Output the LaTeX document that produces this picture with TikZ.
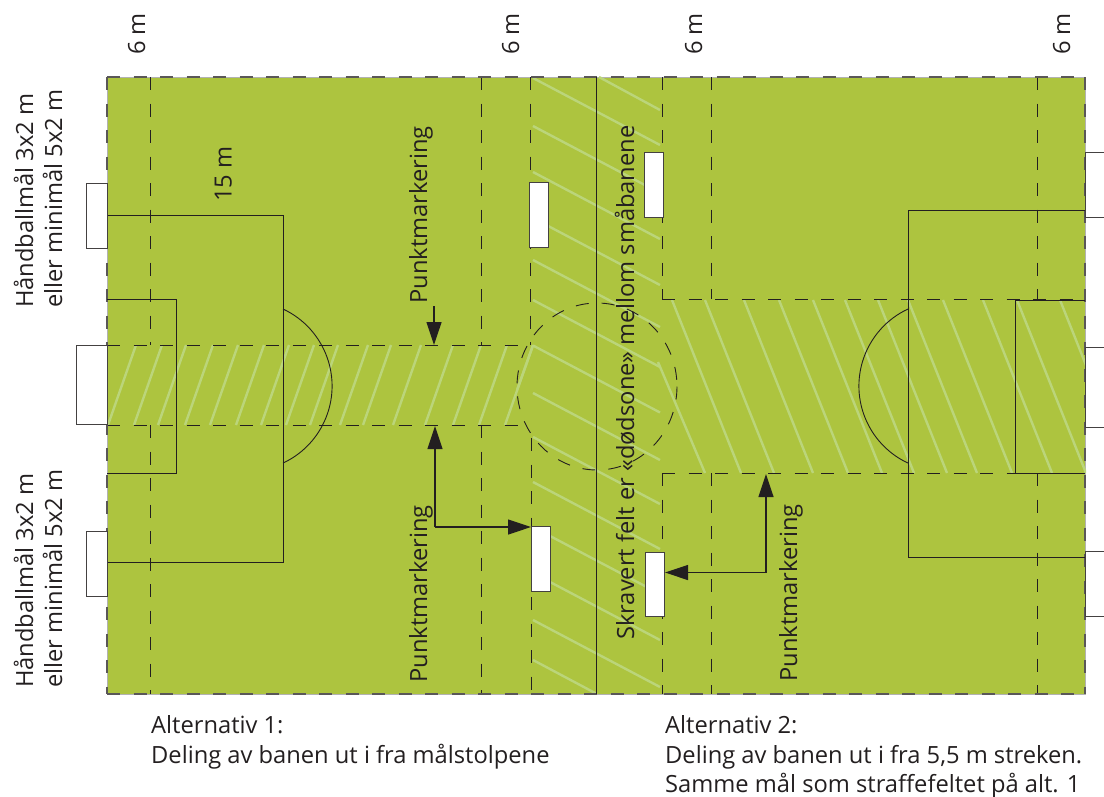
\documentclass[tikz,border=0pt]{standalone}
\usepackage{fontspec}
\setmainfont{Open Sans}
\usetikzlibrary{arrows.meta}
\definecolor{grasscol}{HTML}{ADC43F}
\definecolor{hatchcol}{HTML}{BBD57A}
\definecolor{inkcol}{HTML}{231F20}
\tikzset{
  x=1pt,y=-1pt,
  hatchline/.style={hatchcol,line width=2.4pt},
  solidline/.style={inkcol,line width=0.9pt},
  dashline/.style={inkcol,line width=0.9pt,dash pattern=on 13pt off 13.5pt},
  edgeline/.style={inkcol!75!white,line width=1.3pt,dash pattern=on 13pt off 13.5pt},
  goalbox/.style={draw=inkcol!85!white,line width=1pt,fill=white},
  arrowline/.style={inkcol,line width=1.2pt,-{Triangle[length=23pt,width=15pt]}},
  uptext/.style={rotate=90,anchor=base west,inner sep=0pt,text=inkcol,font=\fontsize{23.7}{28}\selectfont},
  flattext/.style={anchor=base west,inner sep=0pt,text=inkcol,font=\fontsize{23.7}{28}\selectfont},
}
\begin{document}
\begin{tikzpicture}
\useasboundingbox (0,0) rectangle (1104,796);
% field
\fill[grasscol] (107,77) rectangle (1085,694);
\draw[gray!60,line width=0.8pt] (107,77) rectangle (1085,694);
% hatching: left band
\foreach \b in {108,134,158,185,210,236,261,286,310,340,363,393,425,453,479,505}
  \draw[hatchline] (\b,425) -- ++(28,-80);
% hatching: right band
\begin{scope}
\clip (600,299) rectangle (1086,473);
\foreach \t in {672,705,744,779,813,845,878,908,943,983,1017,1060}
  \draw[hatchline] (\t,300) -- ++(69,173);
\draw[hatchline] (658,362) -- (705,473);
\end{scope}
% hatching: middle zone
\foreach \s in {78,126,172,218,260,300,345.5,393,437,482,527,573,620}
  \draw[hatchline] (533,\s) -- ++(127,67);
\draw[hatchline] (599,77) -- (660,110);
\draw[hatchline] (533,660) -- (597,694);
\draw[hatchline] (533,345.5) -- (517,390);
% dashed grid
\foreach \x in {150,481,530}
  \draw[dashline] (\x,77) -- (\x,345);
\foreach \x in {150,481}
  \draw[dashline] (\x,425) -- (\x,694);
\draw[dashline] (531,438) -- (531,694);
\foreach \x in {662,711,1037} {
  \draw[dashline] (\x,77) -- (\x,299);
  \draw[dashline] (\x,473) -- (\x,694);
}
\draw[dashline] (107,345) -- (531,345);
\draw[dashline] (107,425) -- (531,425);
\draw[dashline] (662,299) -- (1085,299);
\draw[dashline] (662,473) -- (1085,473);
% field edges
\draw[edgeline] (107,77) -- (1085,77);
\draw[edgeline] (107,694) -- (1085,694);
\draw[edgeline] (107,77) -- (107,694);
\draw[edgeline] (1085,77) -- (1085,694);
% centre
\draw[solidline] (596.5,77) -- (596.5,694);
\draw[inkcol,line width=0.9pt,dash pattern=on 13pt off 13pt] (597,386.5) ellipse [x radius=80,y radius=83.5];
% boxes left
\draw[solidline] (107,215) -- (283,215) -- (283,562) -- (107,562);
\draw[solidline] (107,299) -- (176,299) -- (176,473) -- (107,473);
\draw[solidline] (283,309) arc[start angle=-65,end angle=65,radius=85];
% boxes right
\draw[solidline] (1085,210) -- (908,210) -- (908,557.5) -- (1085,557.5);
\draw[solidline] (1085,300) -- (1015,300) -- (1015,473) -- (1085,473);
\draw[solidline] (908,309) arc[start angle=245,end angle=115,radius=85];
% goals
\foreach \xa/\ya/\xb/\yb in {86/183/107/248, 76/345/107/424.5, 86/531/107/596,
    529/182/548/247, 644/152/663/217, 531/526/550/591, 645/552/664/616,
    1085/152/1106/217, 1085/347/1106/427, 1085/551/1106/616}
  \draw[goalbox] (\xa,\ya) rectangle (\xb,\yb);
% arrows
\coordinate (tipa) at (434,345);
\coordinate (taila) at (434,306);
\coordinate (tipb) at (435,426);
\coordinate (bendb) at (435,527);
\coordinate (tipc) at (531,527);
\coordinate (tipd) at (766,474);
\coordinate (bendd) at (766,572.5);
\coordinate (tipe) at (665,572.5);
\draw[arrowline] (taila) -- (tipa);
\draw[arrowline] (bendb) -- (tipb);
\draw[arrowline] (bendb) -- (tipc);
\draw[arrowline] (bendd) -- (tipd);
\draw[arrowline] (bendd) -- (tipe);
% labels
\node[uptext] (sixa) at (145,55) {6 m};
\node[uptext] (sixb) at (519,55) {6 m};
\node[uptext] (sixc) at (702,55) {6 m};
\node[uptext] (sixd) at (1070,55) {6 m};
\node[uptext] (fifteen) at (231.5,202) {15 m};
\node[uptext] (hba) at (33,308) {Håndballmål 3x2 m};
\node[uptext] (hbb) at (62,308) {eller minimål 5x2 m};
\node[uptext] (hbc) at (33,688) {Håndballmål 3x2 m};
\node[uptext] (hbd) at (62,688) {eller minimål 5x2 m};
\node[uptext] (pma) at (427,304) {Punktmarkering};
\node[uptext] (pmb) at (427,683) {Punktmarkering};
\node[uptext] (pmc) at (797,682) {Punktmarkering};
\node[uptext] (skr) at (634,640) {Skravert felt er «dødsone» mellom småbanene};
\node[flattext] (alta) at (151,733) {Alternativ 1:};
\node[flattext] (altb) at (151,763) {Deling av banen ut i fra målstolpene};
\node[flattext] (altc) at (665,733) {Alternativ 2:};
\node[flattext] (altd) at (665,763) {Deling av banen ut i fra 5,5 m streken.};
\node[flattext] (alte) at (665,792) {Samme mål som straffefeltet på alt. 1};
\end{tikzpicture}
\end{document}
